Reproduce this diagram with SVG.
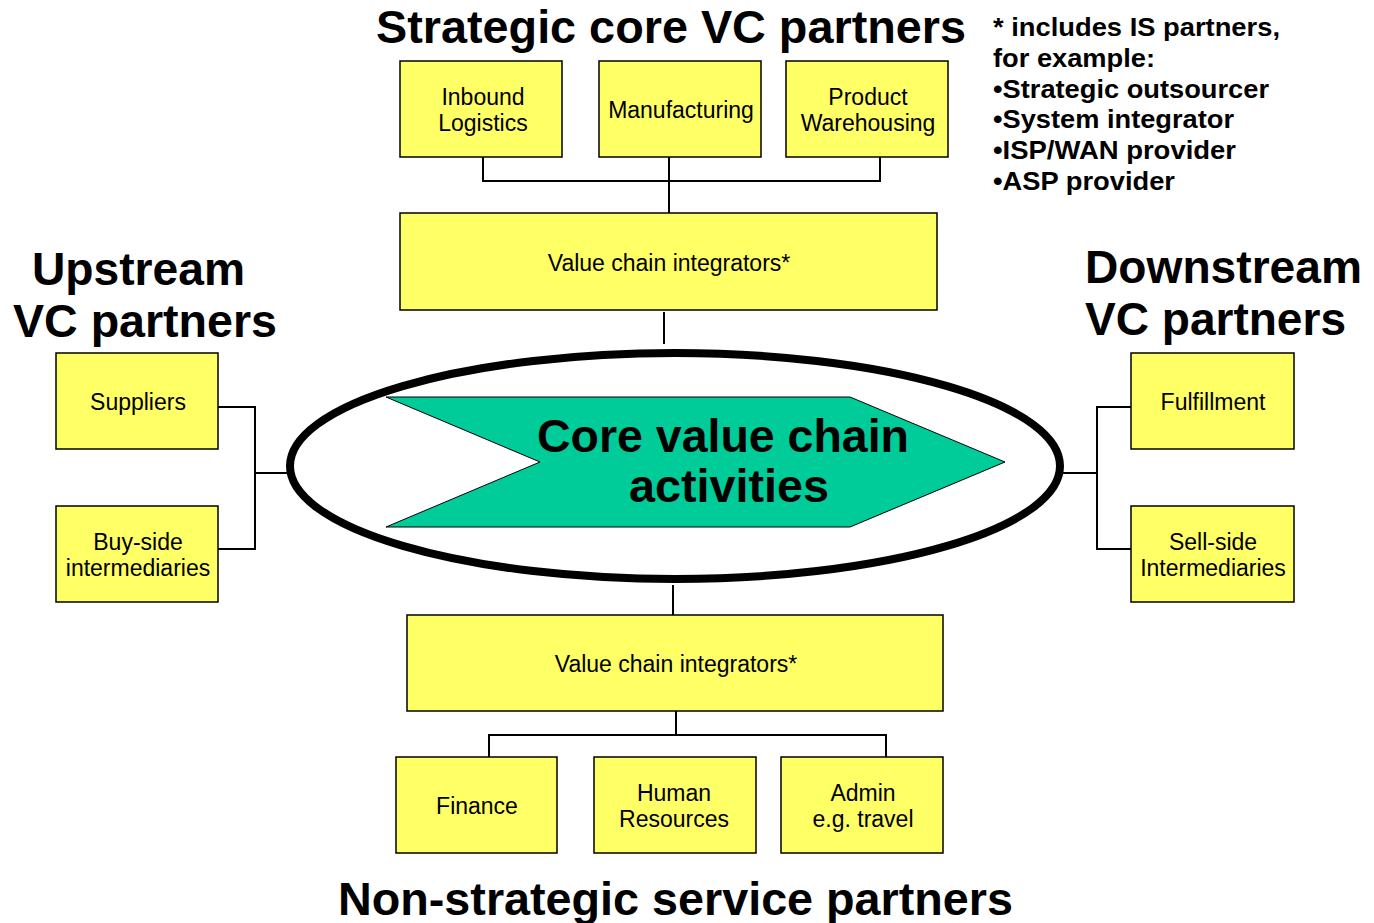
<svg xmlns="http://www.w3.org/2000/svg" width="1374" height="923" viewBox="0 0 1374 923">
<style>
.box{fill:#FFFF66;stroke:#000;stroke-width:1.5}
.bt{font-family:"Liberation Sans",Arial,sans-serif;font-size:23px;fill:#000;text-anchor:middle}
.ttl{font-family:"Liberation Sans",Arial,sans-serif;font-size:46px;font-weight:bold;fill:#000}
.note{font-family:"Liberation Sans",Arial,sans-serif;font-size:25px;font-weight:bold;fill:#000}
.con{fill:none;stroke:#000;stroke-width:2}
</style>
<rect width="1374" height="923" fill="#fff"/>
<g id="connectors">
<polyline class="con" points="483,157 483,181 880,181 880,157"/>
<line class="con" x1="669" y1="157" x2="669" y2="213"/>
<line class="con" x1="664" y1="312" x2="664" y2="344"/>
<polyline class="con" points="218,407 255,407 255,549 218,549"/>
<line class="con" x1="255" y1="473" x2="290" y2="473"/>
<polyline class="con" points="1131,407 1097,407 1097,549 1131,549"/>
<line class="con" x1="1060" y1="473" x2="1097" y2="473"/>
<line class="con" x1="673" y1="585" x2="673" y2="615"/>
<line class="con" x1="676" y1="711" x2="676" y2="735"/>
<polyline class="con" points="489,757 489,735 886,735 886,757"/>
</g>
<g id="title-top"><text class="ttl" x="376" y="43" textLength="590" lengthAdjust="spacingAndGlyphs">Strategic core VC partners</text></g>
<g id="title-up">
<text class="ttl" x="32" y="285" textLength="213" lengthAdjust="spacingAndGlyphs">Upstream</text>
<text class="ttl" x="13" y="337" textLength="264" lengthAdjust="spacingAndGlyphs">VC partners</text>
</g>
<g id="title-down">
<text class="ttl" x="1085" y="283" textLength="277" lengthAdjust="spacingAndGlyphs">Downstream</text>
<text class="ttl" x="1085" y="335" textLength="261" lengthAdjust="spacingAndGlyphs">VC partners</text>
</g>
<g id="title-bottom"><text class="ttl" x="338" y="915" textLength="675" lengthAdjust="spacingAndGlyphs">Non-strategic service partners</text></g>
<g id="note">
<text class="note" x="993" y="36" textLength="287" lengthAdjust="spacingAndGlyphs">* includes IS partners,</text>
<text class="note" x="993" y="67" textLength="162" lengthAdjust="spacingAndGlyphs">for example:</text>
<text class="note" x="993" y="98" textLength="276" lengthAdjust="spacingAndGlyphs">•Strategic outsourcer</text>
<text class="note" x="993" y="128" textLength="241" lengthAdjust="spacingAndGlyphs">•System integrator</text>
<text class="note" x="993" y="159" textLength="243" lengthAdjust="spacingAndGlyphs">•ISP/WAN provider</text>
<text class="note" x="993" y="190" textLength="182" lengthAdjust="spacingAndGlyphs">•ASP provider</text>
</g>
<g id="inbound"><rect class="box" x="400" y="61" width="162" height="96"/><text class="bt" x="483" y="105">Inbound</text><text class="bt" x="483" y="131">Logistics</text></g>
<g id="manufacturing"><rect class="box" x="599" y="61" width="162" height="96"/><text class="bt" x="681" y="118">Manufacturing</text></g>
<g id="warehousing"><rect class="box" x="786" y="61" width="162" height="96"/><text class="bt" x="868" y="105">Product</text><text class="bt" x="868" y="131">Warehousing</text></g>
<g id="integrators-top"><rect class="box" x="400" y="213" width="537" height="97"/><text class="bt" x="669" y="271">Value chain integrators*</text></g>
<g id="core">
<ellipse cx="675" cy="466" rx="385" ry="113" fill="#fff" stroke="#000" stroke-width="8"/>
<polygon points="386,397 850,397 1005,462 850,527 386,527 540,462" fill="#00CC99" stroke="#000" stroke-width="1"/>
<text class="ttl" x="723" y="452" text-anchor="middle" font-size="44" textLength="372" lengthAdjust="spacingAndGlyphs">Core value chain</text>
<text class="ttl" x="729" y="502" text-anchor="middle" font-size="44" textLength="200" lengthAdjust="spacingAndGlyphs">activities</text>
</g>
<g id="suppliers"><rect class="box" x="56" y="353" width="162" height="96"/><text class="bt" x="138" y="410">Suppliers</text></g>
<g id="buyside"><rect class="box" x="56" y="506" width="162" height="96"/><text class="bt" x="138" y="550">Buy-side</text><text class="bt" x="138" y="576">intermediaries</text></g>
<g id="fulfillment"><rect class="box" x="1131" y="353" width="163" height="96"/><text class="bt" x="1213" y="410">Fulfillment</text></g>
<g id="sellside"><rect class="box" x="1131" y="506" width="163" height="96"/><text class="bt" x="1213" y="550">Sell-side</text><text class="bt" x="1213" y="576">Intermediaries</text></g>
<g id="integrators-bottom"><rect class="box" x="407" y="615" width="536" height="96"/><text class="bt" x="676" y="672">Value chain integrators*</text></g>
<g id="finance"><rect class="box" x="396" y="757" width="161" height="96"/><text class="bt" x="477" y="814">Finance</text></g>
<g id="hr"><rect class="box" x="594" y="757" width="162" height="96"/><text class="bt" x="674" y="801">Human</text><text class="bt" x="674" y="827">Resources</text></g>
<g id="admin"><rect class="box" x="781" y="757" width="162" height="96"/><text class="bt" x="863" y="801">Admin</text><text class="bt" x="863" y="827">e.g. travel</text></g>
</svg>
